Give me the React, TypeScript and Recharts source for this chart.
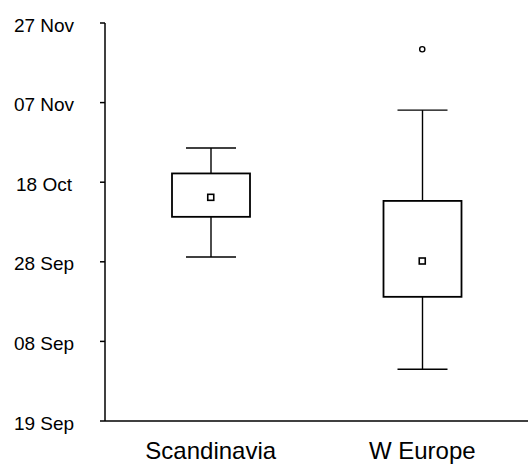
import React from 'react';
import { ComposedChart, Bar, Scatter, XAxis, YAxis } from 'recharts';

// days counted from the bottom tick, 20-day steps
const categories = ['Scandinavia', 'W Europe'];
const minVals = [41.2, 13.0];
const q1Vals = [51.3, 31.2];
const q3Vals = [62.2, 55.3];
const maxVals = [68.6, 78.1];
const meanVals = [56.2, 40.2];
const outlierVals: (number | null)[] = [null, 93.4];

const yTicks = [0, 20, 40, 60, 80, 100];
const yTickLabels = ['19 Sep', '08 Sep', '28 Sep', '18 Oct', '07 Nov', '27 Nov'];

const data = categories.map((name, i) => ({
  name,
  base: minVals[i],
  lower: q1Vals[i] - minVals[i],
  box: q3Vals[i] - q1Vals[i],
  upper: maxVals[i] - q3Vals[i],
  mean: meanVals[i],
  outlier: outlierVals[i],
}));

const FONT = '"Liberation Sans", Arial, sans-serif';
const CAP = 50;

const LowerWhisker = (p: any) => {
  const cx = p.x + p.width / 2;
  const bottom = p.y + p.height;
  return (
    <g stroke="#000" strokeWidth={1.4}>
      <line x1={cx} y1={p.y} x2={cx} y2={bottom} />
      <line x1={cx - CAP / 2} y1={bottom} x2={cx + CAP / 2} y2={bottom} />
    </g>
  );
};

const UpperWhisker = (p: any) => {
  const cx = p.x + p.width / 2;
  return (
    <g stroke="#000" strokeWidth={1.4}>
      <line x1={cx} y1={p.y} x2={cx} y2={p.y + p.height} />
      <line x1={cx - CAP / 2} y1={p.y} x2={cx + CAP / 2} y2={p.y} />
    </g>
  );
};

const BoxShape = (p: any) => (
  <rect x={p.x} y={p.y} width={p.width} height={p.height} fill="#fff" stroke="#000" strokeWidth={1.8} />
);

const MeanShape = (p: any) => (
  <rect x={p.cx - 3} y={p.cy - 3} width={6} height={6} fill="#fff" stroke="#000" strokeWidth={1.6} />
);

const OutlierShape = (p: any) =>
  p.payload.outlier == null ? null : (
    <circle cx={p.cx} cy={p.cy} r={2.6} fill="#fff" stroke="#000" strokeWidth={1.4} />
  );

const YTick = (p: any) => (
  <text
    x={p.x - 54}
    y={p.y + 2}
    textAnchor="middle"
    dominantBaseline="central"
    fontFamily={FONT}
    fontSize={19}
    fill="#000"
  >
    {yTickLabels[yTicks.indexOf(p.payload.value)]}
  </text>
);

const XTick = (p: any) => (
  <text x={p.x} y={p.y + 30} textAnchor="middle" fontFamily={FONT} fontSize={24} fill="#000">
    {p.payload.value}
  </text>
);

export default function App() {
  return (
    <div style={{ position: 'absolute', left: 0, top: 0, width: 528, height: 467, background: '#fff' }}>
      <ComposedChart width={528} height={467} data={data} margin={{ top: 23, right: 0, left: 0, bottom: 0 }}>
        <XAxis
          dataKey="name"
          axisLine={{ stroke: '#000', strokeWidth: 1.5 }}
          tickLine={false}
          tick={<XTick />}
          height={46}
        />
        <YAxis
          type="number"
          domain={[0, 100]}
          ticks={yTicks}
          width={105}
          axisLine={{ stroke: '#000', strokeWidth: 1.5 }}
          tickLine={{ stroke: '#000', strokeWidth: 1.5 }}
          tickSize={5}
          tick={<YTick />}
          interval={0}
        />
        <Bar dataKey="base" stackId="b" fill="none" barSize={78} isAnimationActive={false} />
        <Bar dataKey="lower" stackId="b" barSize={78} shape={<LowerWhisker />} isAnimationActive={false} />
        <Bar dataKey="box" stackId="b" barSize={78} shape={<BoxShape />} isAnimationActive={false} />
        <Bar dataKey="upper" stackId="b" barSize={78} shape={<UpperWhisker />} isAnimationActive={false} />
        <Scatter dataKey="mean" shape={<MeanShape />} isAnimationActive={false} />
        <Scatter dataKey="outlier" shape={<OutlierShape />} isAnimationActive={false} />
      </ComposedChart>
    </div>
  );
}
